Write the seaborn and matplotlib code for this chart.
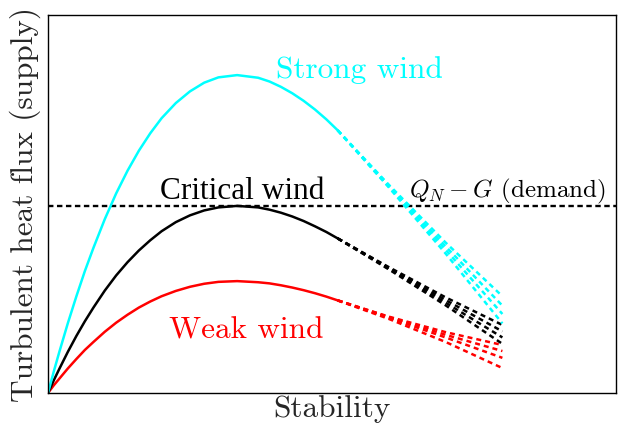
import numpy as np
import pandas as pd
import matplotlib
matplotlib.use("Agg")
import matplotlib.pyplot as plt
import seaborn as sns

# stability (0..1 across the axis) where the solid curves are sampled
stability_solid = [0.0, 0.01, 0.02, 0.035, 0.05, 0.065, 0.08, 0.10, 0.12, 0.14,
                   0.16, 0.18, 0.20, 0.225, 0.25, 0.275, 0.30, 0.333, 0.37, 0.39,
                   0.41, 0.43, 0.45, 0.47, 0.49, 0.51]

flux_strong = [0.0, 0.056, 0.109, 0.185, 0.256, 0.323, 0.384, 0.460, 0.528, 0.588,
               0.641, 0.687, 0.727, 0.767, 0.798, 0.821, 0.835, 0.841, 0.834, 0.824,
               0.810, 0.793, 0.773, 0.750, 0.724, 0.695]
flux_critical = [0.0, 0.033, 0.064, 0.109, 0.151, 0.190, 0.226, 0.271, 0.311, 0.346,
                 0.377, 0.404, 0.428, 0.452, 0.470, 0.483, 0.491, 0.495, 0.491, 0.485,
                 0.477, 0.467, 0.455, 0.441, 0.426, 0.409]
flux_weak = [0.0, 0.020, 0.038, 0.065, 0.090, 0.114, 0.135, 0.162, 0.186, 0.207,
             0.226, 0.242, 0.256, 0.270, 0.281, 0.289, 0.294, 0.296, 0.293, 0.290,
             0.285, 0.279, 0.272, 0.264, 0.255, 0.245]

# dashed tails (four variants per wind regime)
stability_tail = [0.51, 0.60, 0.70, 0.80]
tail_strong = [[0.695, 0.551, 0.398, 0.256],
               [0.695, 0.548, 0.388, 0.231],
               [0.695, 0.546, 0.379, 0.209],
               [0.695, 0.544, 0.369, 0.184]]
tail_critical = [[0.409, 0.333, 0.253, 0.180],
                 [0.409, 0.331, 0.246, 0.163],
                 [0.409, 0.329, 0.239, 0.147],
                 [0.409, 0.327, 0.232, 0.130]]
tail_weak = [[0.245, 0.202, 0.161, 0.127],
             [0.245, 0.201, 0.154, 0.111],
             [0.245, 0.199, 0.147, 0.093],
             [0.245, 0.196, 0.135, 0.066]]

demand_level = 0.495

sns.set_style("white")
plt.rcParams["font.family"] = ["cmr10", "DejaVu Serif"]
plt.rcParams["mathtext.fontset"] = "cm"
plt.rcParams["axes.unicode_minus"] = False

fig = plt.figure(figsize=(6.18, 4.25), dpi=100)
ax = fig.add_axes([48 / 618, 32 / 425, 568 / 618, 378 / 425])

# demand line
sns.lineplot(x=[0.0, 1.0], y=[demand_level, demand_level], ax=ax, color="black",
             linewidth=1.7, linestyle=(0, (2.3, 1.5)))

regimes = [
    ("red", flux_weak, tail_weak),
    ("black", flux_critical, tail_critical),
    ("cyan", flux_strong, tail_strong),
]
for color, solid, tails in regimes:
    sns.lineplot(x=stability_solid, y=solid, ax=ax, color=color, linewidth=1.8,
                 sort=False, estimator=None)
    for tail in tails:
        sns.lineplot(x=stability_tail, y=tail, ax=ax, color=color, linewidth=1.8,
                     linestyle=(0, (2.0, 1.6)), sort=False, estimator=None)

ax.text(0.548, 0.833, "Strong wind", color="cyan", fontsize=22.5, ha="center", va="baseline")
ax.text(0.342, 0.513, "Critical wind", color="black", fontsize=22.5, ha="center",
        va="baseline", family="Liberation Serif")
ax.text(0.349, 0.1455, "Weak wind", color="red", fontsize=22.5, ha="center", va="baseline")
ax.text(0.636, 0.5185, r"$Q_N - G$ (demand)", color="black", fontsize=18,
        ha="left", va="baseline")

ax.set_xlim(0, 1)
ax.set_ylim(0, 1)
ax.set_xticks([])
ax.set_yticks([])
ax.set_xlabel("Stability", fontsize=22.5)
ax.set_ylabel("Turbulent heat flux (supply)", fontsize=22.5)
ax.xaxis.set_label_coords(0.5, -0.005)
ax.yaxis.set_label_coords(-0.012, 0.5)
for spine in ax.spines.values():
    spine.set_color("black")
    spine.set_linewidth(1.0)

fig.savefig("out.png", dpi=100)
plt.close(fig)
